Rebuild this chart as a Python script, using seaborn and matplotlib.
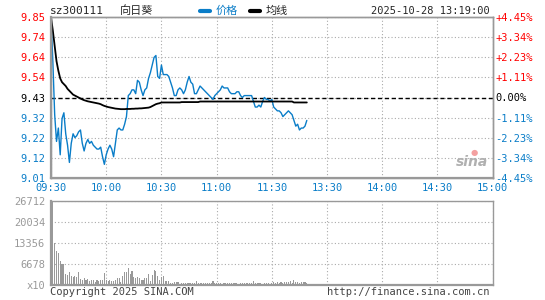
import matplotlib
matplotlib.use("Agg")
import matplotlib.pyplot as plt
from matplotlib.lines import Line2D
import seaborn as sns
import numpy as np

# intraday data, one value per minute from 09:30 (minute 0) to 13:19 (minute 139)
price = [
    9.85, 9.62, 9.34, 9.20, 9.27, 9.13, 9.32, 9.35, 9.24, 9.18,
    9.09, 9.19, 9.24, 9.22, 9.23, 9.25, 9.26, 9.19, 9.15, 9.19,
    9.21, 9.19, 9.20, 9.18, 9.17, 9.16, 9.16, 9.17, 9.12, 9.08,
    9.13, 9.16, 9.18, 9.16, 9.12, 9.19, 9.26, 9.27, 9.26, 9.26,
    9.29, 9.33, 9.44, 9.45, 9.47, 9.47, 9.45, 9.52, 9.51, 9.47,
    9.44, 9.47, 9.48, 9.53, 9.56, 9.60, 9.64, 9.65, 9.54, 9.53,
    9.60, 9.55, 9.55, 9.55, 9.54, 9.51, 9.48, 9.44, 9.44, 9.47,
    9.48, 9.47, 9.45, 9.47, 9.51, 9.54, 9.51, 9.50, 9.45, 9.45,
    9.47, 9.49, 9.48, 9.47, 9.46, 9.45, 9.44, 9.43, 9.42, 9.44,
    9.45, 9.46, 9.47, 9.49, 9.48, 9.48, 9.48, 9.46, 9.45, 9.45,
    9.45, 9.46, 9.46, 9.44, 9.43, 9.44, 9.44, 9.44, 9.44, 9.44,
    9.41, 9.38, 9.38, 9.39, 9.38, 9.41, 9.43, 9.42, 9.42, 9.41,
    9.42, 9.38, 9.37, 9.36, 9.36, 9.35, 9.33, 9.34, 9.35, 9.36,
    9.35, 9.34, 9.31, 9.28, 9.29, 9.26, 9.27, 9.27, 9.28, 9.31,
]
avg_price = [
    9.85, 9.78, 9.70, 9.62, 9.57, 9.53, 9.51, 9.50, 9.49, 9.475,
    9.465, 9.455, 9.445, 9.44, 9.435, 9.43, 9.425, 9.42, 9.416, 9.413,
    9.41, 9.408, 9.406, 9.404, 9.402, 9.40, 9.398, 9.395, 9.39, 9.386,
    9.383, 9.38, 9.378, 9.376, 9.374, 9.372, 9.371, 9.37, 9.369, 9.369,
    9.369, 9.37, 9.37, 9.37, 9.371, 9.371, 9.372, 9.372, 9.373, 9.373,
    9.374, 9.375, 9.376, 9.377, 9.38, 9.385, 9.39, 9.395, 9.398, 9.40,
    9.404, 9.404, 9.404, 9.404, 9.404, 9.404, 9.404, 9.404, 9.404, 9.404,
    9.404, 9.406, 9.406, 9.406, 9.406, 9.406, 9.406, 9.406, 9.406, 9.406,
    9.406, 9.409, 9.409, 9.409, 9.409, 9.409, 9.409, 9.409, 9.409, 9.409,
    9.409, 9.409, 9.409, 9.409, 9.409, 9.409, 9.409, 9.409, 9.409, 9.409,
    9.409, 9.409, 9.409, 9.409, 9.409, 9.409, 9.409, 9.409, 9.409, 9.409,
    9.409, 9.409, 9.409, 9.409, 9.409, 9.409, 9.409, 9.409, 9.409, 9.409,
    9.409, 9.409, 9.409, 9.409, 9.409, 9.409, 9.409, 9.409, 9.409, 9.409,
    9.409, 9.409, 9.404, 9.404, 9.404, 9.404, 9.404, 9.404, 9.404, 9.404,
]
volume = [
    6780, 26712, 13356, 10920, 10280, 7740, 6780, 6680, 3600, 3390,
    4130, 3070, 2760, 2860, 2650, 4130, 2010, 1700, 2330, 1800,
    2010, 1480, 1700, 1700, 1060, 1700, 1380, 1590, 1700, 3920,
    1700, 1380, 1590, 1380, 1380, 1800, 2230, 2230, 950, 2970,
    4130, 4130, 5400, 3500, 4560, 2650, 2230, 2650, 2230, 1800,
    1590, 2230, 2230, 3600, 1380, 3180, 4880, 4450, 2860, 1590,
    2650, 2970, 1380, 1380, 1380, 850, 740, 950, 1170, 950,
    530, 850, 740, 640, 640, 850, 740, 640, 850, 1270,
    740, 640, 740, 850, 640, 740, 640, 850, 1480, 740,
    640, 740, 640, 530, 740, 850, 640, 740, 640, 740,
    850, 640, 530, 740, 640, 740, 640, 850, 740, 640,
    1380, 850, 740, 640, 740, 530, 640, 740, 640, 530,
    640, 1060, 850, 1060, 740, 950, 850, 1170, 950, 1060,
    1270, 850, 1700, 950, 1170, 850, 1060, 950, 1170, 850,
]
minutes = list(range(len(price)))

time_labels = ["09:30", "10:00", "10:30", "11:00", "11:30", "13:30", "14:00", "14:30", "15:00"]
price_labels = ["9.85", "9.74", "9.64", "9.54", "9.43", "9.32", "9.22", "9.12", "9.01"]
pct_labels = ["+4.45%", "+3.34%", "+2.23%", "+1.11%", "0.00%", "-1.11%", "-2.23%", "-3.34%", "-4.45%"]
vol_labels = ["26712", "20034", "13356", "6678", "x10"]
prev_close = 9.43

BLUE = "#0a7dc8"
RED = "#ff0000"
GRAY = "#999999"
FONT = ["DejaVu Sans Mono", "Noto Sans CJK SC"]

sns.set_style("white")
plt.rcParams["font.family"] = FONT

fig = plt.figure(figsize=(5.45, 3.0), dpi=100)
W, H = 545, 300
ax = fig.add_axes([51 / W, 1 - 177.7 / H, 441.7 / W, 160.4 / H])
axv = fig.add_axes([51 / W, 1 - 285.3 / H, 441.7 / W, 84 / H])

# price panel
sns.lineplot(x=minutes, y=price, ax=ax, color=BLUE, linewidth=1.0)
sns.lineplot(x=minutes, y=avg_price, ax=ax, color="black", linewidth=1.3)
ax.axhline(prev_close, color="black", linestyle=(0, (3, 2)), linewidth=1.0, zorder=1)

yt = np.linspace(9.85, 9.01, len(price_labels))
ax.set_ylim(9.01, 9.85)
ax.set_xlim(0, 240)
ax.set_yticks(yt)
ax.set_yticklabels(price_labels, fontsize=7.5)
ax.set_xticks(range(0, 241, 30))
ax.set_xticklabels(time_labels, fontsize=7.5, color=BLUE)
for i, lab in enumerate(ax.get_yticklabels()):
    lab.set_color(RED if i < 4 else ("black" if i == 4 else BLUE))
ax.grid(True, linestyle=(0, (1, 2)), color="#aaaaaa", linewidth=0.8)
ax.tick_params(length=0, pad=4)
ax.set_xlabel("")
ax.set_ylabel("")

ax2 = ax.twinx()
ax2.set_ylim(9.01, 9.85)
ax2.set_yticks(yt)
ax2.set_yticklabels(pct_labels, fontsize=7.5)
for i, lab in enumerate(ax2.get_yticklabels()):
    lab.set_color(RED if i < 4 else ("black" if i == 4 else BLUE))
ax2.tick_params(length=0, pad=2)
ax2.grid(False)

for a in (ax, ax2, axv):
    for s in a.spines.values():
        s.set_color(GRAY)
        s.set_linewidth(1.0)
ax.spines["left"].set_linewidth(1.6)
ax.spines["bottom"].set_linewidth(1.6)

# volume panel
sns.barplot(x=minutes, y=volume, ax=axv, native_scale=True, color=GRAY,
            saturation=1, width=0.6, errorbar=None, linewidth=0)
axv.set_xlim(0, 240)
axv.set_ylim(0, 26712)
axv.set_yticks([26712, 20034, 13356, 6678, 0])
axv.set_yticklabels(vol_labels, fontsize=7.5, color=GRAY)
axv.set_xticks(range(0, 241, 30))
axv.set_xticklabels([])
axv.grid(True, linestyle=(0, (1, 2)), color="#aaaaaa", linewidth=0.8)
axv.tick_params(length=0, pad=4)
axv.set_xlabel("")
axv.set_ylabel("")
axv.spines["left"].set_linewidth(1.6)
axv.spines["bottom"].set_linewidth(1.6)

# header
fig.text(50 / W, 1 - 11 / H, "sz300111", fontsize=8, va="center", ha="left")
fig.text(120 / W, 1 - 11 / H, "向日葵", fontsize=8, va="center", ha="left")
fig.add_artist(Line2D([200 / W, 210 / W], [1 - 11 / H] * 2, color=BLUE, linewidth=3))
fig.text(216 / W, 1 - 11 / H, "价格", fontsize=8, va="center", ha="left", color=BLUE)
fig.add_artist(Line2D([250 / W, 260 / W], [1 - 11 / H] * 2, color="black", linewidth=3))
fig.text(266 / W, 1 - 11 / H, "均线", fontsize=8, va="center", ha="left")
fig.text(490 / W, 1 - 11 / H, "2025-10-28 13:19:00", fontsize=7.5, va="center", ha="right")

# footer and watermark
fig.text(50 / W, 1 - 292 / H, "Copyright 2025 SINA.COM", fontsize=7.5, va="center", ha="left", color="#444444")
fig.text(490 / W, 1 - 292 / H, "http://finance.sina.com.cn", fontsize=7.5, va="center", ha="right", color="#444444")
fig.text(472 / W, 1 - 162 / H, "sina", fontsize=10, fontweight="bold", style="italic",
         va="center", ha="center", color="#b0b0b0", family="DejaVu Sans")
fig.text(474 / W, 1 - 152 / H, "●", fontsize=6, va="center", ha="center", color="#f4a0a0", family="DejaVu Sans")

fig.savefig("out.png", dpi=100)
